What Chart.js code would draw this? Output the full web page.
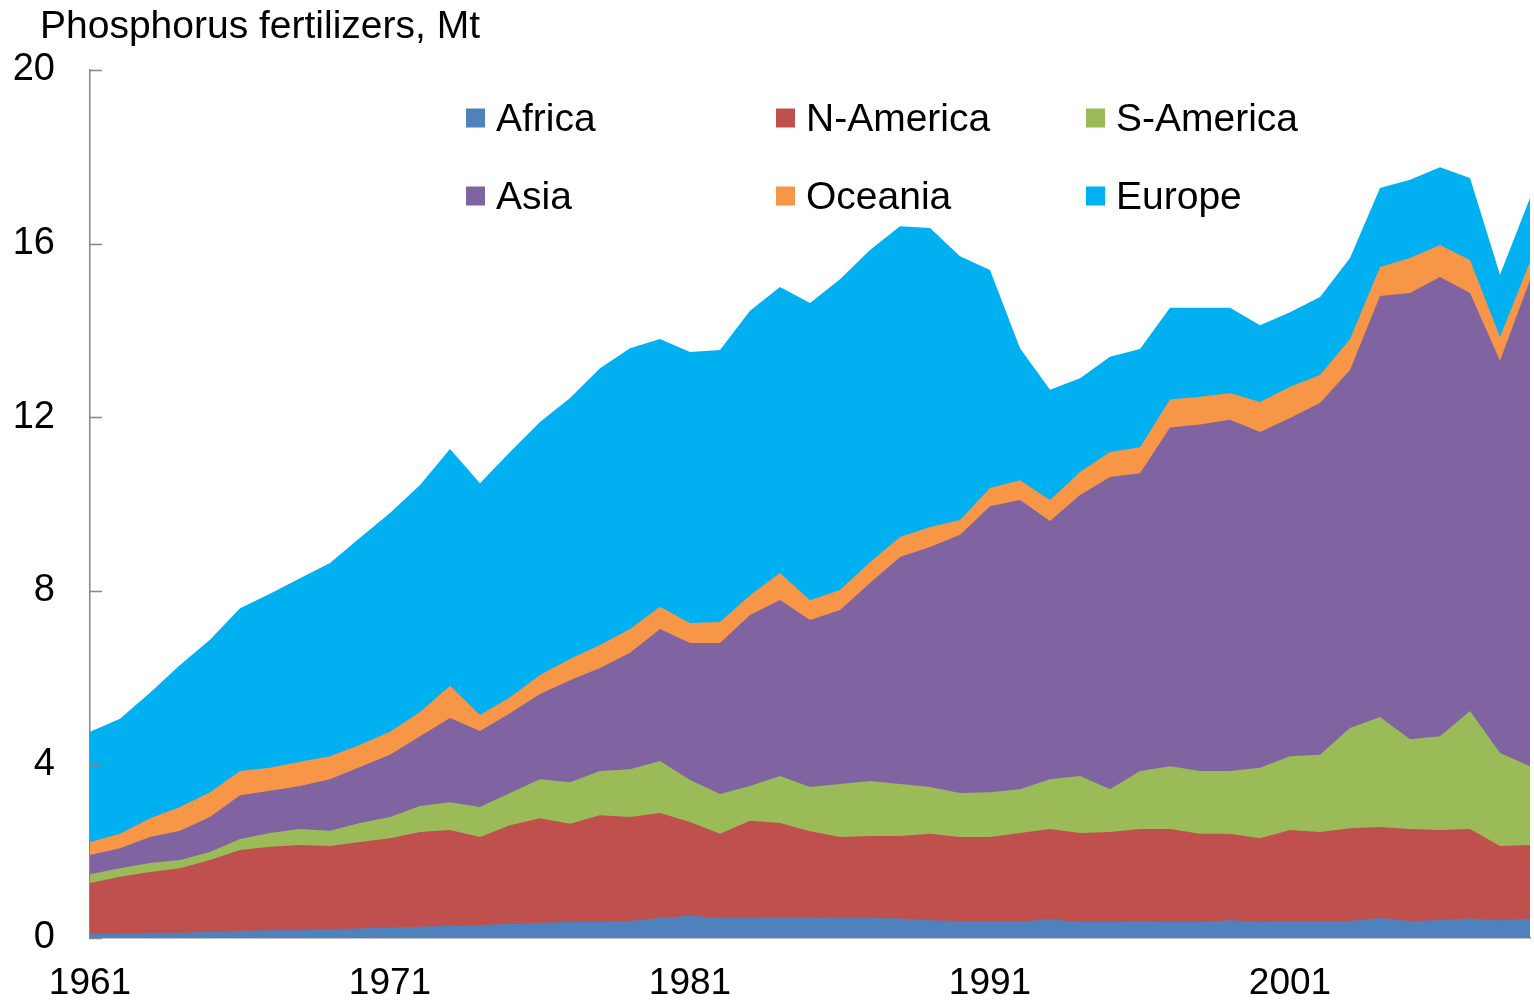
<!DOCTYPE html>
<html>
<head>
<meta charset="utf-8">
<script src="https://cdn.jsdelivr.net/npm/chart.js@4.4.0/dist/chart.umd.min.js"></script>
<style>
  body { margin: 0; background: #fff; }
  #wrap { width: 1534px; height: 1004px; }
</style>
</head>
<body>
<div id="wrap"><canvas id="myChart"></canvas></div>
<script>
const years = ['1961','1962','1963','1964','1965','1966','1967','1968','1969','1970',
    '1971','1972','1973','1974','1975','1976','1977','1978','1979','1980',
    '1981','1982','1983','1984','1985','1986','1987','1988','1989','1990',
    '1991','1992','1993','1994','1995','1996','1997','1998','1999','2000',
    '2001','2002','2003','2004','2005','2006','2007','2008','2009'];

// Mt per region
const africa = [0.09,0.10,0.12,0.12,0.14,0.16,0.18,0.18,0.21,0.22,
    0.24,0.26,0.28,0.30,0.32,0.35,0.37,0.37,0.39,0.46,
    0.51,0.46,0.46,0.48,0.48,0.46,0.46,0.45,0.41,0.39,
    0.38,0.38,0.43,0.37,0.37,0.38,0.37,0.37,0.41,0.37,
    0.39,0.39,0.39,0.46,0.39,0.41,0.45,0.41,0.45];
const nAmerica = [1.18,1.31,1.40,1.49,1.66,1.87,1.92,1.96,1.91,1.99,
    2.06,2.18,2.21,2.03,2.28,2.41,2.26,2.46,2.40,2.42,
    2.16,1.94,2.24,2.17,1.98,1.87,1.89,1.90,1.99,1.94,
    1.95,2.04,2.08,2.05,2.07,2.13,2.14,2.03,1.99,1.93,
    2.10,2.05,2.14,2.10,2.12,2.08,2.06,1.71,1.69];
const sAmerica = [0.20,0.20,0.21,0.19,0.18,0.25,0.32,0.37,0.35,0.44,
    0.49,0.60,0.64,0.69,0.74,0.90,0.96,1.02,1.10,1.20,
    0.97,0.92,0.80,1.08,1.02,1.22,1.27,1.20,1.08,1.01,
    1.03,1.01,1.15,1.31,0.99,1.34,1.45,1.45,1.45,1.62,
    1.70,1.78,2.31,2.53,2.07,2.16,2.72,2.14,1.82];
const asia = [0.44,0.46,0.60,0.67,0.81,1.01,0.97,0.99,1.19,1.29,
    1.43,1.61,1.94,1.75,1.84,1.96,2.35,2.37,2.68,3.04,
    3.16,3.48,3.94,4.06,3.85,4.01,4.56,5.23,5.53,5.95,
    6.59,6.66,5.95,6.48,7.19,6.86,7.80,7.98,8.09,7.74,
    7.79,8.11,8.25,9.70,10.28,10.58,9.63,9.04,11.20];
const oceania = [0.30,0.33,0.43,0.55,0.57,0.56,0.53,0.56,0.53,0.51,
    0.53,0.56,0.74,0.37,0.37,0.44,0.49,0.53,0.55,0.51,
    0.46,0.48,0.46,0.62,0.45,0.46,0.48,0.46,0.46,0.34,
    0.42,0.46,0.48,0.53,0.58,0.60,0.65,0.64,0.62,0.69,
    0.72,0.64,0.71,0.67,0.81,0.74,0.76,0.55,0.42];
const europe = [2.54,2.65,2.89,3.27,3.51,3.75,4.01,4.23,4.45,4.77,
    5.04,5.23,5.46,5.34,5.65,5.83,6.01,6.38,6.47,6.17,
    6.24,6.27,6.55,6.59,6.85,7.16,7.19,7.16,6.89,6.08,
    5.02,3.04,2.54,2.16,2.19,2.26,2.11,2.05,1.96,1.77,
    1.72,1.80,1.87,1.82,1.80,1.79,1.89,1.43,1.47];

const shownYears = ['1961', '1971', '1981', '1991', '2001'];
const yTicks = [0, 4, 8, 12, 16, 20];

const regionNames = ['Africa', 'N-America', 'S-America', 'Asia', 'Oceania', 'Europe'];
const regionColors = ['#4F81BD', '#C0504D', '#9BBB59', '#8064A2', '#F79646', '#00B0F0'];
const regionValues = [africa, nAmerica, sAmerica, asia, oceania, europe];

const fontFamily = '"Liberation Sans", Arial, sans-serif';
Chart.defaults.font.family = fontFamily;
Chart.defaults.color = '#000';

// axis caption in the top left corner
const caption = {
    id: 'caption',
    afterDraw(chart, args, opts) {
        const ctx = chart.ctx;
        ctx.save();
        ctx.font = opts.fontSize + 'px ' + fontFamily;
        ctx.fillStyle = '#000';
        ctx.textBaseline = 'middle';
        ctx.textAlign = 'left';
        ctx.fillText(opts.text, opts.x, opts.y);
        ctx.restore();
    }
};

// legend laid out as 3 columns x 2 rows inside the plot
const gridLegend = {
    id: 'gridLegend',
    afterDraw(chart, args, opts) {
        const ctx = chart.ctx;
        ctx.save();
        ctx.font = opts.fontSize + 'px ' + fontFamily;
        ctx.textBaseline = 'middle';
        ctx.textAlign = 'left';
        chart.data.datasets.forEach((ds, i) => {
            const x = opts.columns[i % 3];
            const y = opts.rows[Math.floor(i / 3)];
            ctx.fillStyle = ds.backgroundColor;
            ctx.fillRect(x, y - opts.box / 2, opts.box, opts.box);
            ctx.fillStyle = '#000';
            ctx.fillText(ds.label, x + opts.box + opts.gap, y + opts.textDy);
        });
        ctx.restore();
    }
};

// short tick marks pointing into the plot
const innerTicks = {
    id: 'innerTicks',
    afterDraw(chart, args, opts) {
        const scale = chart.scales.y;
        const ctx = chart.ctx;
        ctx.save();
        ctx.strokeStyle = opts.color;
        ctx.lineWidth = opts.width;
        scale.ticks.forEach(t => {
            const py = Math.round(scale.getPixelForValue(t.value)) + 0.5;
            ctx.beginPath();
            ctx.moveTo(scale.right, py);
            ctx.lineTo(scale.right + opts.length, py);
            ctx.stroke();
        });
        ctx.restore();
    }
};

const data = {
    labels: years,
    datasets: regionNames.map((name, i) => ({
        label: name,
        data: regionValues[i],
        fill: 'origin',
        backgroundColor: regionColors[i],
        borderColor: regionColors[i],
        borderWidth: 0,
        pointRadius: 0,
        tension: 0
    }))
};

const config = {
    type: 'line',
    data: data,
    options: {
        responsive: true,
        maintainAspectRatio: false,
        animation: false,
        layout: { padding: { left: 6, right: 4, top: 70, bottom: 0 } },
        plugins: {
            legend: { display: false },
            tooltip: { enabled: false },
            title: { display: false },
            caption: { text: 'Phosphorus fertilizers, Mt', x: 40, y: 27, fontSize: 39 },
            gridLegend: {
                columns: [466, 776, 1086],
                rows: [118, 196],
                box: 19,
                gap: 11,
                textDy: 2,
                fontSize: 39
            },
            innerTicks: { color: '#868686', width: 1.5, length: 12 }
        },
        scales: {
            x: {
                z: 1,
                offset: false,
                grid: { drawOnChartArea: false, drawTicks: false },
                border: { color: '#868686', width: 1.5 },
                ticks: {
                    autoSkip: false,
                    maxRotation: 0,
                    padding: 24,
                    font: { size: 37 },
                    callback(val) {
                        const lab = this.getLabelForValue(val);
                        return shownYears.includes(lab) ? lab : '';
                    }
                },
                afterFit(scale) {
                    scale.height = 66;
                    scale.paddingLeft = 0;
                    scale.paddingRight = 0;
                }
            },
            y: {
                z: 1,
                stacked: true,
                min: 0,
                max: 20,
                grid: { drawOnChartArea: false, drawTicks: false },
                border: { color: '#868686', width: 1.5 },
                ticks: { padding: 35, font: { size: 38 } },
                afterBuildTicks(scale) { scale.ticks = yTicks.map(v => ({ value: v })); },
                afterFit(scale) { scale.width = 84; }
            }
        }
    },
    plugins: [caption, gridLegend, innerTicks]
};

const ctx = document.getElementById('myChart');
const chart = new Chart(ctx, config);
</script>
</body>
</html>
